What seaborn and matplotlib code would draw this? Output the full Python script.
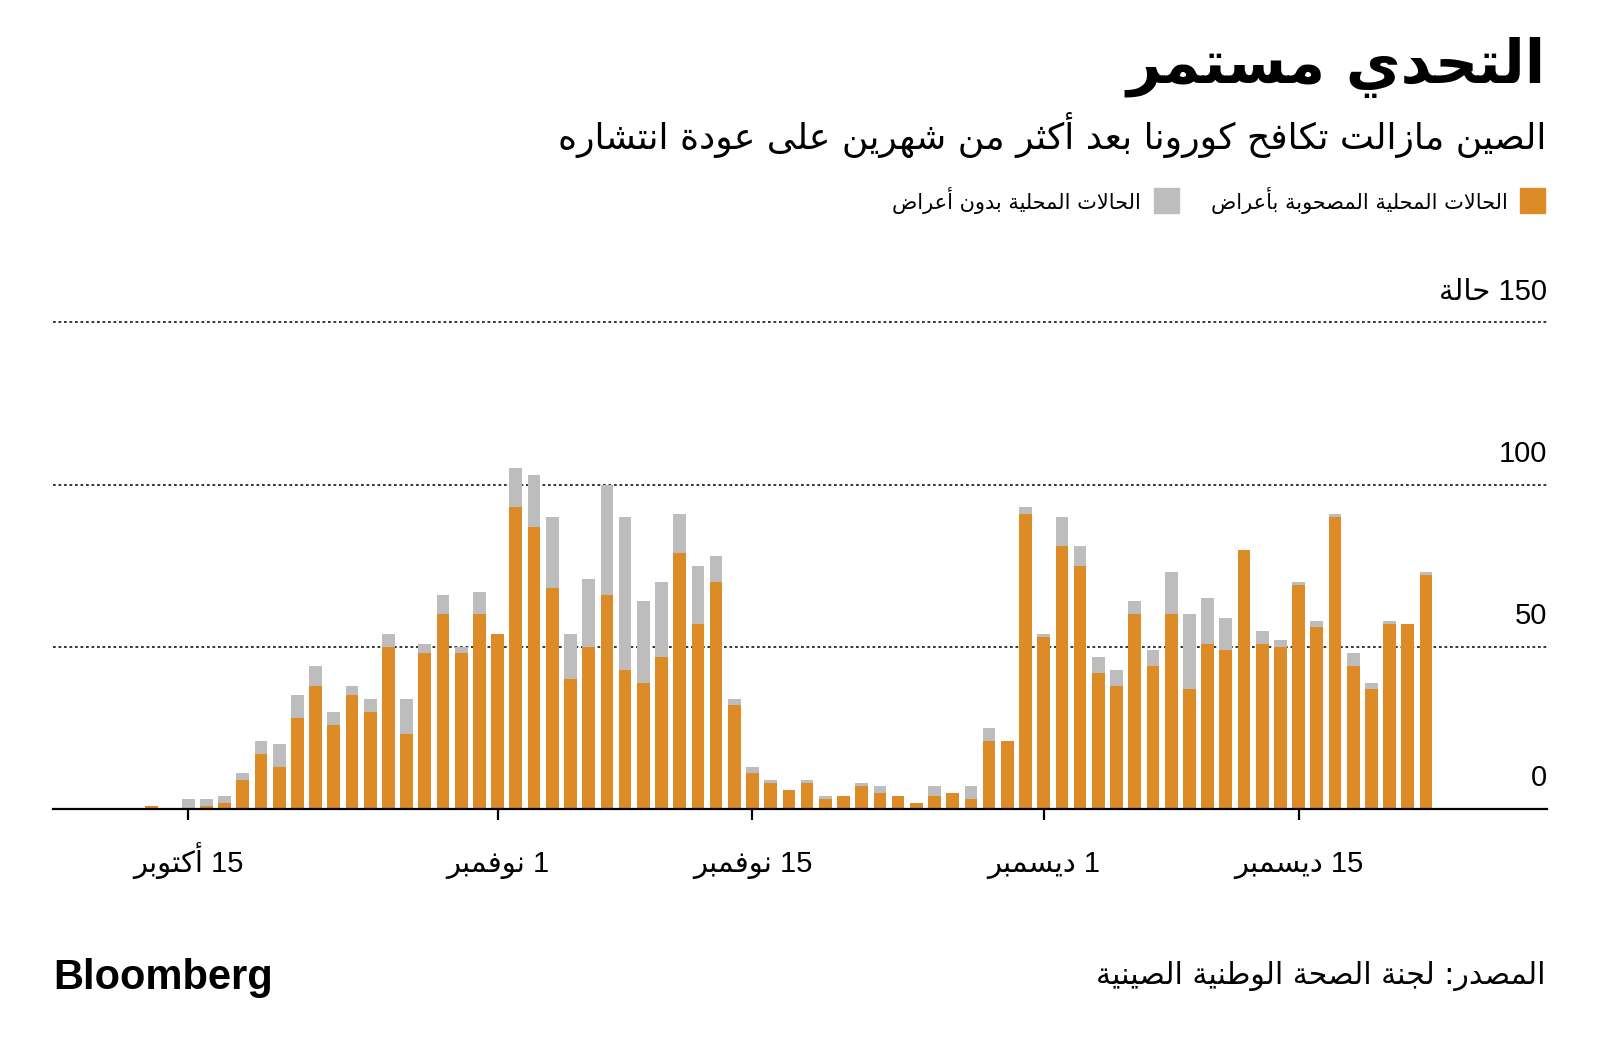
import re
import matplotlib
matplotlib.use("Agg")
import matplotlib.pyplot as plt
import matplotlib.transforms as mtransforms
from matplotlib.patches import Rectangle
import numpy as np
import pandas as pd
import seaborn as sns

# daily local cases, 13 Oct - 22 Dec
dates = pd.date_range("2020-10-13", "2020-12-22", freq="D")
symptomatic = [
    1, 0, 0, 1, 2, 9, 17, 13, 28, 38, 26, 35, 30, 50, 23, 48, 60, 48, 60,   # Oct 13-31
    54, 93, 87, 68, 40, 50, 66, 43, 39, 47, 79, 57, 70, 32, 11,             # Nov 1-15
    8, 6, 8, 3, 4, 7, 5, 4, 2, 4, 5, 3, 21, 21, 91,                         # Nov 16-30
    53, 81, 75, 42, 38, 60, 44, 60, 37, 51, 49, 80, 51, 50,                 # Dec 1-14
    69, 56, 90, 44, 37, 57, 57, 72,                                         # Dec 15-22
]
asymptomatic = [
    0, 0, 3, 2, 2, 2, 4, 7, 7, 6, 4, 3, 4, 4, 11, 3, 6, 2, 7,
    0, 12, 16, 22, 14, 21, 34, 47, 25, 23, 12, 18, 8, 2, 2,
    1, 0, 1, 1, 0, 1, 2, 0, 0, 3, 0, 4, 4, 0, 2,
    1, 9, 6, 5, 5, 4, 5, 13, 23, 14, 10, 0, 4, 2,
    1, 2, 1, 4, 2, 1, 0, 1,
]
tick_dates = ["2020-10-15", "2020-11-01", "2020-11-15", "2020-12-01", "2020-12-15"]
tick_labels = ["15 أكتوبر", "1 نوفمبر", "15 نوفمبر", "1 ديسمبر", "15 ديسمبر"]
y_ticks = [0, 50, 100, 150]
y_labels = ["0", "50", "100", "150 حالة"]

TITLE = "التحدي مستمر"
SUBTITLE = "الصين مازالت تكافح كورونا بعد أكثر من شهرين على عودة انتشاره"
LEG_SYM = "الحالات المحلية المصحوبة بأعراض"
LEG_ASYM = "الحالات المحلية بدون أعراض"
SOURCE = "المصدر: لجنة الصحة الوطنية الصينية"

ORANGE = "#DC8B26"
GRAY = "#BDBDBD"
FAM = ["Liberation Sans", "DejaVu Sans"]

# --- minimal arabic shaping (matplotlib has no bidi / joining) ---
DUAL = {'ئ': 0xFE89, 'ب': 0xFE8F, 'ت': 0xFE95, 'ث': 0xFE99, 'ج': 0xFE9D,
        'ح': 0xFEA1, 'خ': 0xFEA5, 'س': 0xFEB1, 'ش': 0xFEB5, 'ص': 0xFEB9,
        'ض': 0xFEBD, 'ط': 0xFEC1, 'ظ': 0xFEC5, 'ع': 0xFEC9, 'غ': 0xFECD,
        'ف': 0xFED1, 'ق': 0xFED5, 'ك': 0xFED9, 'ل': 0xFEDD, 'م': 0xFEE1,
        'ن': 0xFEE5, 'ه': 0xFEE9, 'ي': 0xFEF1}
RIGHT = {'آ': 0xFE81, 'أ': 0xFE83, 'ؤ': 0xFE85, 'إ': 0xFE87, 'ا': 0xFE8D,
         'ة': 0xFE93, 'د': 0xFEA9, 'ذ': 0xFEAB, 'ر': 0xFEAD, 'ز': 0xFEAF,
         'و': 0xFEED, 'ى': 0xFEEF}
LAM_ALEF = {'آ': 0xFEF5, 'أ': 0xFEF7, 'إ': 0xFEF9, 'ا': 0xFEFB}


def shape(text):
    out, prev, i = [], False, 0
    while i < len(text):
        c = text[i]
        nxt = text[i + 1] if i + 1 < len(text) else ""
        if c == "ل" and nxt in LAM_ALEF:
            out.append(chr(LAM_ALEF[nxt] + (1 if prev else 0)))
            prev = False
            i += 2
            continue
        if c in DUAL:
            joins_next = nxt in DUAL or nxt in RIGHT
            base = DUAL[c]
            if prev and joins_next:
                out.append(chr(base + 3))
            elif prev:
                out.append(chr(base + 1))
            elif joins_next:
                out.append(chr(base + 2))
            else:
                out.append(chr(base))
            prev = True
        elif c in RIGHT:
            out.append(chr(RIGHT[c] + (1 if prev else 0)))
            prev = False
        else:
            out.append(c)
            prev = False
        i += 1
    return "".join(out)


def ar(text):
    s = shape(text)[::-1]
    return re.sub(r"[0-9]+", lambda m: m.group(0)[::-1], s)


sns.set_theme(style="white")
plt.rcParams["font.family"] = FAM
plt.rcParams["text.color"] = "black"

df = pd.DataFrame({
    "day": dates.strftime("%Y-%m-%d"),
    "sym": symptomatic,
    "asym": asymptomatic,
})
df["total"] = df["sym"] + df["asym"]

W, H = 1600, 1054
fig = plt.figure(figsize=(W / 100, H / 100), dpi=100)
ax = fig.add_axes([53 / W, 1 - 809 / H, (1547 - 53) / W, (809 - 322.5) / H])

sns.barplot(data=df, x="day", y="total", color=GRAY, width=0.7, linewidth=0,
            saturation=1, errorbar=None, ax=ax, zorder=2)
sns.barplot(data=df, x="day", y="sym", color=ORANGE, width=0.7, linewidth=0,
            saturation=1, errorbar=None, ax=ax, zorder=3)

days = list(df["day"])
ax.set_xlim(-5.43, 76.65)
ax.set_ylim(0, 150)
for s in ["top", "right", "left"]:
    ax.spines[s].set_visible(False)
ax.spines["bottom"].set_color("black")
ax.spines["bottom"].set_linewidth(1.6)
ax.spines["bottom"].set_zorder(5)

ax.set_xticks([days.index(d) for d in tick_dates])
ax.set_xticklabels([])
ax.tick_params(axis="x", length=8, width=1.6, color="black", bottom=True)
ax.set_yticks([])
ax.set_xlabel("")
ax.set_ylabel("")

xtrans = mtransforms.blended_transform_factory(ax.transData, ax.transAxes)
for d, lab in zip(tick_dates, tick_labels):
    ax.text(days.index(d), -0.1295, ar(lab), transform=xtrans, ha="center",
            va="baseline", fontsize=21, color="black", family=FAM)

trans = mtransforms.blended_transform_factory(ax.transAxes, ax.transData)
for v, lab in zip(y_ticks, y_labels):
    if v > 0:
        ax.axhline(v, color="black", lw=1.1, ls=(0, (1.8, 1.8)), zorder=1,
                   clip_on=False)
    ax.text(1.0, v + 5.2, ar(lab), transform=trans, ha="right", va="bottom",
            fontsize=21, color="black", family=FAM)

# titles
fig.text(1546 / W, 1 - 37 / H, ar(TITLE), ha="right", va="top",
         fontsize=43, fontweight="bold", family=["DejaVu Sans"])
fig.text(1546 / W, 1 - 112 / H, ar(SUBTITLE), ha="right", va="top",
         fontsize=26, family=["DejaVu Sans"])

# legend
fig.patches.append(Rectangle((1520 / W, 1 - 213 / H), 25 / W, 25 / H,
                             transform=fig.transFigure, color=ORANGE))
fig.text(1508 / W, 1 - 200 / H, ar(LEG_SYM), ha="right", va="center",
         fontsize=15, family=["DejaVu Sans"])
fig.patches.append(Rectangle((1154 / W, 1 - 213 / H), 25 / W, 25 / H,
                             transform=fig.transFigure, color=GRAY))
fig.text(1141 / W, 1 - 200 / H, ar(LEG_ASYM), ha="right", va="center",
         fontsize=15, family=["DejaVu Sans"])

# footer
fig.text(53 / W, 1 - 978 / H, "Bloomberg", ha="left", va="center",
         fontsize=30, fontweight="bold", family=["Liberation Sans"])
fig.text(1546 / W, 1 - 976 / H, ar(SOURCE), ha="right", va="center",
         fontsize=21.5, family=["DejaVu Sans"])

fig.savefig("out.png", dpi=100, facecolor="white")
